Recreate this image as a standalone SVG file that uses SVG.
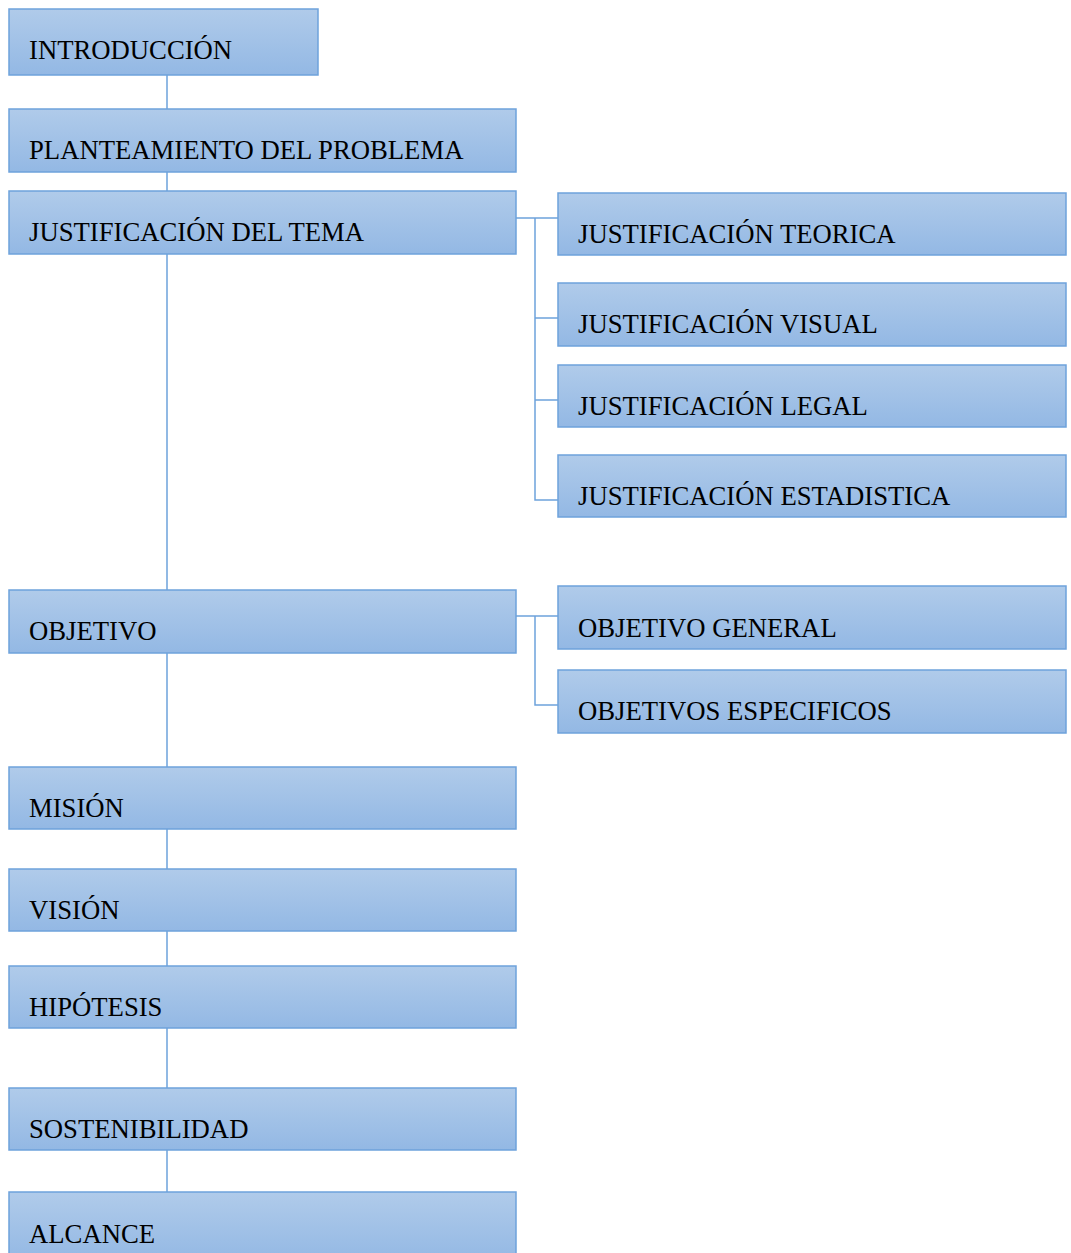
<svg xmlns="http://www.w3.org/2000/svg" width="1071" height="1253" viewBox="0 0 1071 1253">
<defs>
<linearGradient id="g" x1="0" y1="0" x2="0" y2="1">
<stop offset="0" stop-color="#b0cbea"/>
<stop offset="1" stop-color="#93b8e4"/>
</linearGradient>
<style>
.b{fill:url(#g);stroke:#6ea2db;stroke-width:1.5}
.t{font-family:"Liberation Serif","Times New Roman",serif;font-size:26.7px;fill:#000}
.c{stroke:#6ea2db;stroke-width:1.5;fill:none}
</style>
</defs>
<rect width="1071" height="1253" fill="#fff"/>
<g id="connectors">
<path class="c" d="M167 75V109M167 172V191M167 254V590M167 653V767M167 829V869M167 931V966M167 1028V1088M167 1150V1192"/>
<path class="c" d="M516 218H558M535 218V500H558M535 318H558M535 400H558"/>
<path class="c" d="M516 616H558M535 616V705H558"/>
</g>
<g id="n1"><rect class="b" x="9" y="9" width="309" height="66"/><text class="t" x="29" y="59">INTRODUCCIÓN</text></g>
<g id="n2"><rect class="b" x="9" y="109" width="507" height="63"/><text class="t" x="29" y="159">PLANTEAMIENTO DEL PROBLEMA</text></g>
<g id="n3"><rect class="b" x="9" y="191" width="507" height="63"/><text class="t" x="29" y="241">JUSTIFICACIÓN DEL TEMA</text></g>
<g id="n4"><rect class="b" x="558" y="193" width="508" height="62"/><text class="t" x="578" y="243">JUSTIFICACIÓN TEORICA</text></g>
<g id="n5"><rect class="b" x="558" y="283" width="508" height="63"/><text class="t" x="578" y="333">JUSTIFICACIÓN VISUAL</text></g>
<g id="n6"><rect class="b" x="558" y="365" width="508" height="62"/><text class="t" x="578" y="415">JUSTIFICACIÓN LEGAL</text></g>
<g id="n7"><rect class="b" x="558" y="455" width="508" height="62"/><text class="t" x="578" y="505">JUSTIFICACIÓN ESTADISTICA</text></g>
<g id="n8"><rect class="b" x="9" y="590" width="507" height="63"/><text class="t" x="29" y="640">OBJETIVO</text></g>
<g id="n9"><rect class="b" x="558" y="586" width="508" height="63"/><text class="t" x="578" y="637">OBJETIVO GENERAL</text></g>
<g id="n10"><rect class="b" x="558" y="670" width="508" height="63"/><text class="t" x="578" y="720">OBJETIVOS ESPECIFICOS</text></g>
<g id="n11"><rect class="b" x="9" y="767" width="507" height="62"/><text class="t" x="29" y="817">MISIÓN</text></g>
<g id="n12"><rect class="b" x="9" y="869" width="507" height="62"/><text class="t" x="29" y="919">VISIÓN</text></g>
<g id="n13"><rect class="b" x="9" y="966" width="507" height="62"/><text class="t" x="29" y="1016">HIPÓTESIS</text></g>
<g id="n14"><rect class="b" x="9" y="1088" width="507" height="62"/><text class="t" x="29" y="1138">SOSTENIBILIDAD</text></g>
<g id="n15"><rect class="b" x="9" y="1192" width="507" height="70"/><text class="t" x="29" y="1243">ALCANCE</text></g>
</svg>
